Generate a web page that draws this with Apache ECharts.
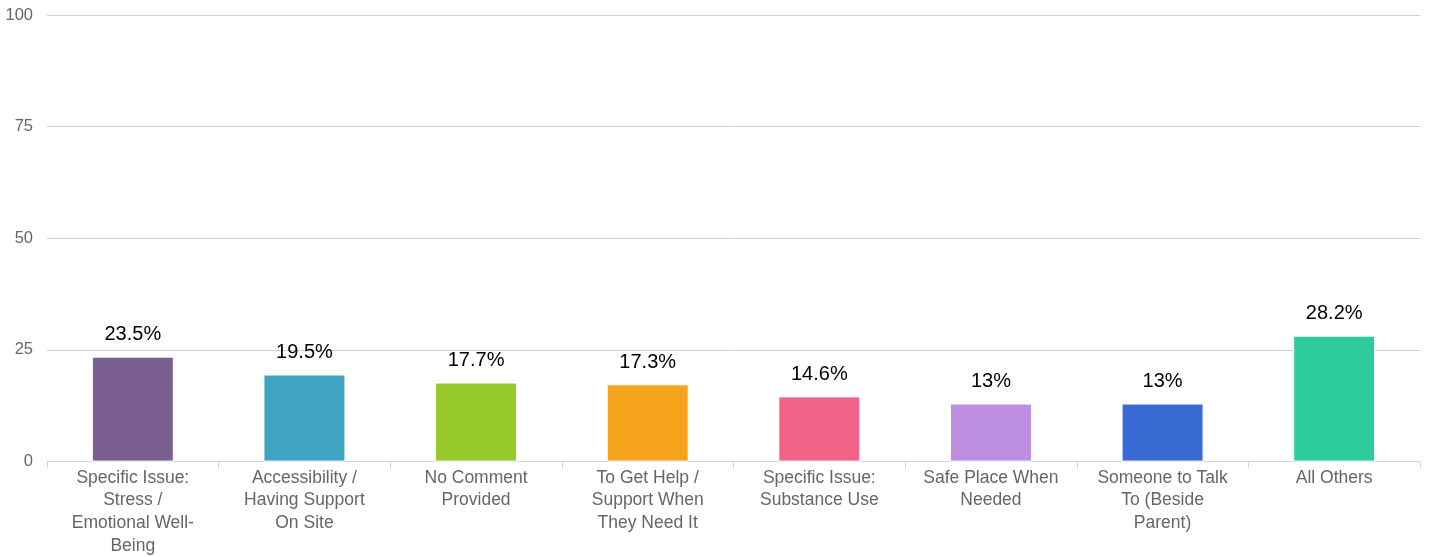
<!DOCTYPE html>
<html>
<head>
<meta charset="utf-8">
<script src="https://cdn.jsdelivr.net/npm/echarts@6/dist/echarts.min.js"></script>
<style>html,body{margin:0;padding:0;background:#fff;}#c{width:1430px;height:557px;}</style>
</head>
<body>
<div id="c"></div>
<script>
const categories = [
  "Specific Issue:\nStress /\nEmotional Well-\nBeing",
  "Accessibility /\nHaving Support\nOn Site",
  "No Comment\nProvided",
  "To Get Help /\nSupport When\nThey Need It",
  "Specific Issue:\nSubstance Use",
  "Safe Place When\nNeeded",
  "Someone to Talk\nTo (Beside\nParent)",
  "All Others"
];
const values = [23.5, 19.5, 17.7, 17.3, 14.6, 13, 13, 28.2];
const colors = ["#7B5E91", "#3FA3C2", "#97C92A", "#F5A31B", "#F06387", "#BE8FE0", "#386BD4", "#2ECC9C"];
const yTicks = [0, 25, 50, 75, 100];

const chart = echarts.init(document.getElementById('c'));
chart.setOption({
  animation: false,
  grid: {left: 47, right: 10, top: 15, bottom: 95, containLabel: false},
  xAxis: {
    type: 'category',
    data: categories,
    axisLine: {lineStyle: {color: '#CCD6EB', width: 1}},
    axisTick: {show: true, length: 7, lineStyle: {color: '#CCD6EB'}, alignWithLabel: false},
    axisLabel: {color: '#666666', fontSize: 17.5, fontFamily: 'Liberation Sans, Arial, sans-serif', lineHeight: 22.6, margin: 5, interval: 0}
  },
  yAxis: {
    type: 'value',
    min: yTicks[0], max: yTicks[yTicks.length - 1], interval: 25,
    axisLine: {show: false},
    axisTick: {show: false},
    splitLine: {lineStyle: {color: '#D0D0D0', width: 1}},
    axisLabel: {color: '#666666', fontSize: 16.5, fontFamily: 'Liberation Sans, Arial, sans-serif', margin: 14}
  },
  series: [{
    type: 'bar',
    data: values.map((v, i) => ({value: v, itemStyle: {color: colors[i]}})),
    barWidth: 82,
    itemStyle: {borderColor: '#ffffff', borderWidth: 1},
    label: {
      show: true, position: 'top', distance: 12,
      color: '#000000', fontSize: 20, fontFamily: 'Liberation Sans, Arial, sans-serif',
      formatter: p => p.value + '%'
    }
  }]
});
</script>
</body>
</html>
